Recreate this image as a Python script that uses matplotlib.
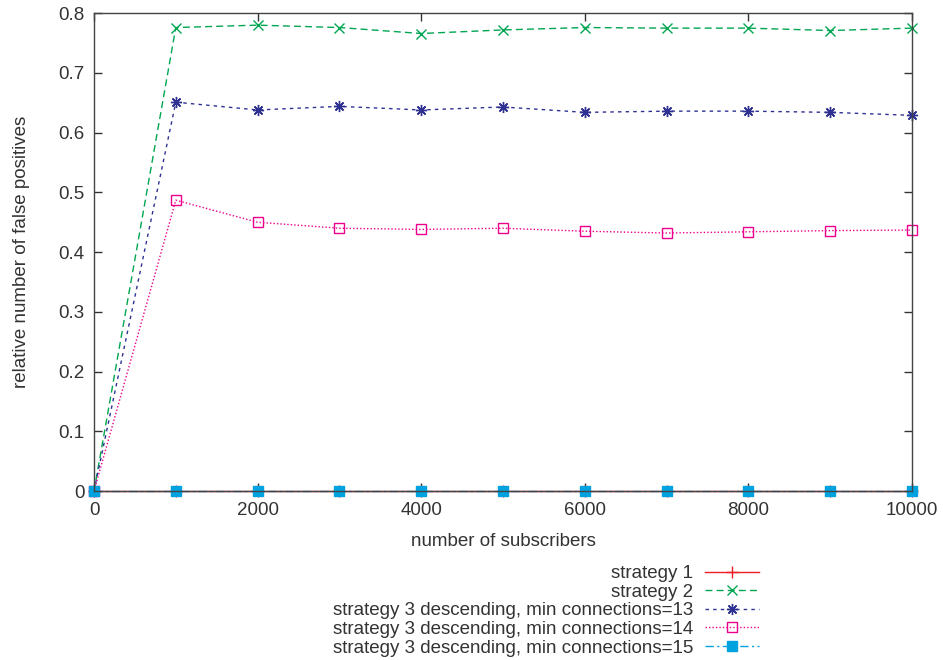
import matplotlib.pyplot as plt
from matplotlib.ticker import FuncFormatter

plt.rcParams['font.family'] = ['Liberation Sans', 'DejaVu Sans']

subscribers = [0, 1000, 2000, 3000, 4000, 5000, 6000, 7000, 8000, 9000, 10000]
strategy1 = [0, 0, 0, 0, 0, 0, 0, 0, 0, 0, 0]
strategy2 = [0, 0.776, 0.780, 0.776, 0.766, 0.772, 0.776, 0.775, 0.775, 0.771, 0.775]
min_conn_13 = [0, 0.651, 0.638, 0.644, 0.638, 0.643, 0.634, 0.636, 0.636, 0.634, 0.629]
min_conn_14 = [0, 0.487, 0.450, 0.440, 0.438, 0.440, 0.435, 0.432, 0.434, 0.436, 0.437]
min_conn_15 = [0, 0, 0, 0, 0, 0, 0, 0, 0, 0, 0]

fig = plt.figure(figsize=(9.43, 6.6), dpi=100)
ax = fig.add_axes([0.0997, 0.256, 0.8673, 0.724])

ax.plot(subscribers, strategy1, color='#ee1c25', lw=1, ls='-',
        marker='+', ms=9, mew=1, clip_on=False, label='strategy 1')
ax.plot(subscribers, strategy2, color='#00a651', lw=1, ls=(0, (5, 3)),
        marker='x', ms=7, mew=1, clip_on=False, label='strategy 2')
ax.plot(subscribers, min_conn_13, color='#2e3192', lw=1, ls=(0, (2.5, 3)),
        marker=(8, 2, 0), ms=8, mew=1, clip_on=False,
        label='strategy 3 descending, min connections=13')
ax.plot(subscribers, min_conn_14, color='#ec008c', lw=1, ls=(0, (1, 1.5)),
        marker='s', ms=7, mew=1, mfc='none', clip_on=False,
        label='strategy 3 descending, min connections=14')
ax.plot(subscribers, min_conn_15, color='#00a2e0', lw=1, ls=(0, (6, 2.5, 1.5, 2.5)),
        marker='s', ms=7, mew=1, clip_on=False,
        label='strategy 3 descending, min connections=15')

ax.set_xlim(0, 10000)
ax.set_ylim(0, 0.8)
ax.set_xticks(range(0, 10001, 2000))
ax.set_yticks([i / 10 for i in range(9)])
ax.yaxis.set_major_formatter(FuncFormatter(lambda v, p: '%g' % round(v, 2)))
ax.tick_params(direction='in', top=True, right=True, length=6, width=1,
               labelsize=13.5, colors='#333333')
ax.tick_params(axis='x', pad=8)
ax.tick_params(axis='y', pad=7)
for s in ax.spines.values():
    s.set_color('#444444')
    s.set_linewidth(1)

ax.set_xlabel('number of subscribers', fontsize=13.5, color='#333333', labelpad=10)
ax.set_ylabel('relative number of false positives', fontsize=13.5, color='#333333',
              labelpad=20)

fig.legend(loc='upper right', bbox_to_anchor=(0.805, 0.144), frameon=False,
           markerfirst=False, fontsize=13.5, handlelength=2.9, handletextpad=0.6,
           labelspacing=0.08, borderpad=0, borderaxespad=0, labelcolor='#333333')

fig.savefig('out.png', dpi=100)
